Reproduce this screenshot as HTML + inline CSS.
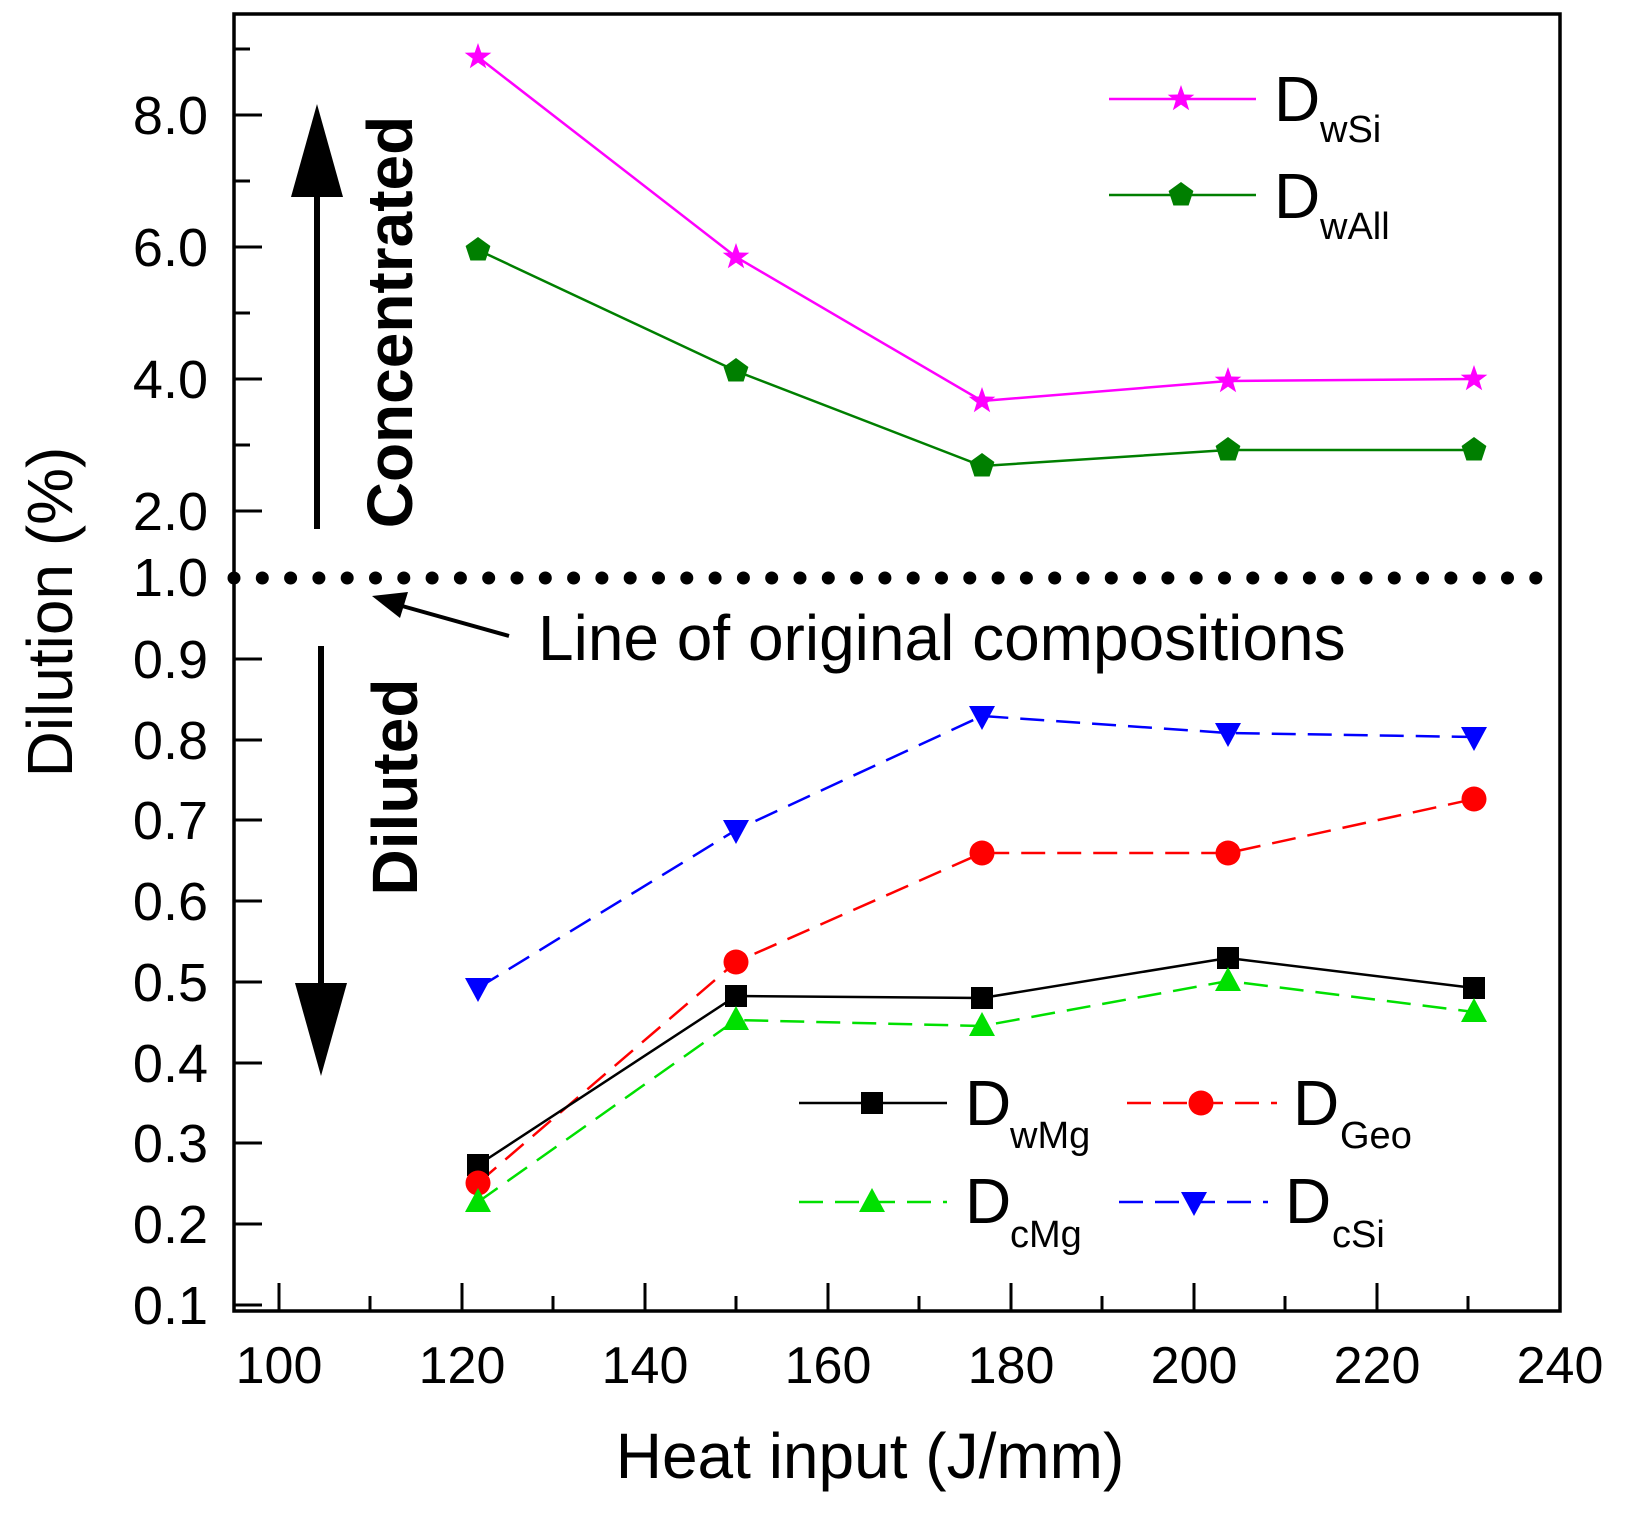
<!DOCTYPE html>
<html><head><meta charset="utf-8"><style>
html,body{margin:0;padding:0;background:#fff;}
svg{display:block;font-family:"Liberation Sans",Arial,sans-serif;}
</style></head><body>
<svg width="1628" height="1518" viewBox="0 0 1628 1518" xmlns="http://www.w3.org/2000/svg">
<defs>
<polygon id="star" points="0,-14 3.3,-4.5 13.3,-4.3 5.3,1.7 8.2,11.3 0,5.6 -8.2,11.3 -5.3,1.7 -13.3,-4.3 -3.3,-4.5"/>
<polygon id="pent" points="0,-13 12.4,-4 7.6,10.5 -7.6,10.5 -12.4,-4"/>
<rect id="sq" x="-11" y="-11" width="22" height="22"/>
<circle id="circ" r="12.5"/>
<polygon id="tri" points="0,-14 13,10 -13,10"/>
<polygon id="dtri" points="0,14 13,-10 -13,-10"/>
</defs>
<rect width="1628" height="1518" fill="#fff"/>

<rect x="234" y="14" width="1326" height="1297" fill="none" stroke="#000" stroke-width="3.5"/>

<g stroke="#000" stroke-width="3">
<line x1="234" y1="115" x2="262" y2="115"/><line x1="234" y1="247" x2="262" y2="247"/>
<line x1="234" y1="379" x2="262" y2="379"/><line x1="234" y1="511" x2="262" y2="511"/>
<line x1="234" y1="49" x2="250" y2="49"/><line x1="234" y1="181" x2="250" y2="181"/>
<line x1="234" y1="313" x2="250" y2="313"/><line x1="234" y1="445" x2="250" y2="445"/>
<line x1="234" y1="659" x2="262" y2="659"/><line x1="234" y1="740" x2="262" y2="740"/>
<line x1="234" y1="820" x2="262" y2="820"/><line x1="234" y1="901" x2="262" y2="901"/>
<line x1="234" y1="982" x2="262" y2="982"/><line x1="234" y1="1063" x2="262" y2="1063"/>
<line x1="234" y1="1143" x2="262" y2="1143"/><line x1="234" y1="1224" x2="262" y2="1224"/>
<line x1="234" y1="1305" x2="262" y2="1305"/>
<line x1="279" y1="1311" x2="279" y2="1283"/><line x1="462" y1="1311" x2="462" y2="1283"/>
<line x1="645" y1="1311" x2="645" y2="1283"/><line x1="828" y1="1311" x2="828" y2="1283"/>
<line x1="1011" y1="1311" x2="1011" y2="1283"/><line x1="1194" y1="1311" x2="1194" y2="1283"/>
<line x1="1377" y1="1311" x2="1377" y2="1283"/>
<line x1="370" y1="1311" x2="370" y2="1296"/><line x1="553" y1="1311" x2="553" y2="1296"/>
<line x1="736" y1="1311" x2="736" y2="1296"/><line x1="919" y1="1311" x2="919" y2="1296"/>
<line x1="1102" y1="1311" x2="1102" y2="1296"/><line x1="1285" y1="1311" x2="1285" y2="1296"/>
<line x1="1468" y1="1311" x2="1468" y2="1296"/>
</g>

<g font-size="54" text-anchor="end" fill="#000">
<text x="208" y="134">8.0</text><text x="208" y="266">6.0</text>
<text x="208" y="398">4.0</text><text x="208" y="530">2.0</text>
<text x="208" y="596">1.0</text><text x="208" y="678">0.9</text>
<text x="208" y="759">0.8</text><text x="208" y="839">0.7</text>
<text x="208" y="920">0.6</text><text x="208" y="1001">0.5</text>
<text x="208" y="1082">0.4</text><text x="208" y="1162">0.3</text>
<text x="208" y="1243">0.2</text><text x="208" y="1324">0.1</text>
</g>
<g font-size="52" text-anchor="middle" fill="#000">
<text x="279" y="1383">100</text><text x="462" y="1383">120</text>
<text x="645" y="1383">140</text><text x="828" y="1383">160</text>
<text x="1011" y="1383">180</text><text x="1194" y="1383">200</text>
<text x="1377" y="1383">220</text><text x="1560" y="1383">240</text>
</g>
<text x="870" y="1478" font-size="64" text-anchor="middle">Heat input (J/mm)</text>
<text transform="translate(72,612) rotate(-90)" font-size="64" text-anchor="middle">Dilution (%)</text>

<line x1="234" y1="578" x2="1562" y2="578" stroke="#000" stroke-width="13" stroke-linecap="round" stroke-dasharray="0 28.3"/>

<line x1="317" y1="529" x2="317" y2="190" stroke="#000" stroke-width="6"/>
<polygon points="317,104 343,197 291,197" fill="#000"/>
<line x1="321" y1="646" x2="321" y2="990" stroke="#000" stroke-width="6"/>
<polygon points="321,1076 347,983 295,983" fill="#000"/>
<text transform="translate(412,322) rotate(-90)" font-size="64" font-weight="bold" text-anchor="middle">Concentrated</text>
<text transform="translate(417,787) rotate(-90)" font-size="64" font-weight="bold" text-anchor="middle">Diluted</text>

<text x="538" y="660" font-size="64">Line of original compositions</text>
<line x1="509" y1="636" x2="395" y2="604" stroke="#000" stroke-width="4"/>
<polygon points="372,596 408,592 400,618" fill="#000"/>

<polyline points="478,57 736,257 982,401 1228,381 1474,379" fill="none" stroke="#ff00ff" stroke-width="2.5"/>
<g fill="#ff00ff"><use href="#star" x="478" y="57"/><use href="#star" x="736" y="257"/><use href="#star" x="982" y="401"/><use href="#star" x="1228" y="381"/><use href="#star" x="1474" y="379"/></g>
<polyline points="478,250 736,371 982,466 1228,450 1474,450" fill="none" stroke="#007f00" stroke-width="2.5"/>
<g fill="#007f00"><use href="#pent" x="478" y="250"/><use href="#pent" x="736" y="371"/><use href="#pent" x="982" y="466"/><use href="#pent" x="1228" y="450"/><use href="#pent" x="1474" y="450"/></g>

<polyline points="478,988 736,830 982,716 1228,733 1474,737" fill="none" stroke="#0000ff" stroke-width="2.5" stroke-dasharray="24 12"/>
<g fill="#0000ff"><use href="#dtri" x="478" y="988"/><use href="#dtri" x="736" y="830"/><use href="#dtri" x="982" y="716"/><use href="#dtri" x="1228" y="733"/><use href="#dtri" x="1474" y="737"/></g>
<polyline points="478,1183 736,962 982,853 1228,853 1474,799" fill="none" stroke="#ff0000" stroke-width="2.5" stroke-dasharray="24 12"/>
<polyline points="478,1202 736,1020 982,1026 1228,981 1474,1012" fill="none" stroke="#00e000" stroke-width="2.5" stroke-dasharray="24 12"/>
<polyline points="478,1165 736,996 982,998 1228,958 1474,988" fill="none" stroke="#000" stroke-width="2.5"/>
<g fill="#000"><use href="#sq" x="478" y="1165"/><use href="#sq" x="736" y="996"/><use href="#sq" x="982" y="998"/><use href="#sq" x="1228" y="958"/><use href="#sq" x="1474" y="988"/></g>
<g fill="#ff0000"><use href="#circ" x="478" y="1183"/><use href="#circ" x="736" y="962"/><use href="#circ" x="982" y="853"/><use href="#circ" x="1228" y="853"/><use href="#circ" x="1474" y="799"/></g>
<g fill="#00e000"><use href="#tri" x="478" y="1202"/><use href="#tri" x="736" y="1020"/><use href="#tri" x="982" y="1026"/><use href="#tri" x="1228" y="981"/><use href="#tri" x="1474" y="1012"/></g>

<line x1="1109" y1="99" x2="1256" y2="99" stroke="#ff00ff" stroke-width="2.5"/>
<use href="#star" x="1181" y="99" fill="#ff00ff"/>
<text x="1274" y="121" font-size="64">D</text><text x="1320" y="142" font-size="38">wSi</text>
<line x1="1109" y1="195" x2="1256" y2="195" stroke="#007f00" stroke-width="2.5"/>
<use href="#pent" x="1181" y="195" fill="#007f00"/>
<text x="1274" y="218" font-size="64">D</text><text x="1320" y="239" font-size="38">wAll</text>

<line x1="799" y1="1103" x2="947" y2="1103" stroke="#000" stroke-width="2.5"/>
<use href="#sq" x="872" y="1103" fill="#000"/>
<text x="965" y="1125" font-size="64">D</text><text x="1010" y="1148" font-size="38">wMg</text>
<line x1="1127" y1="1103" x2="1277" y2="1103" stroke="#ff0000" stroke-width="2.5" stroke-dasharray="24 12"/>
<use href="#circ" x="1201" y="1103" fill="#ff0000"/>
<text x="1293" y="1125" font-size="64">D</text><text x="1340" y="1148" font-size="38">Geo</text>
<line x1="799" y1="1202" x2="947" y2="1202" stroke="#00e000" stroke-width="2.5" stroke-dasharray="24 12"/>
<use href="#tri" x="872" y="1202" fill="#00e000"/>
<text x="965" y="1223" font-size="64">D</text><text x="1010" y="1247" font-size="38">cMg</text>
<line x1="1119" y1="1202" x2="1268" y2="1202" stroke="#0000ff" stroke-width="2.5" stroke-dasharray="24 12"/>
<use href="#dtri" x="1194" y="1202" fill="#0000ff"/>
<text x="1285" y="1223" font-size="64">D</text><text x="1332" y="1247" font-size="38">cSi</text>
</svg>
</body></html>
